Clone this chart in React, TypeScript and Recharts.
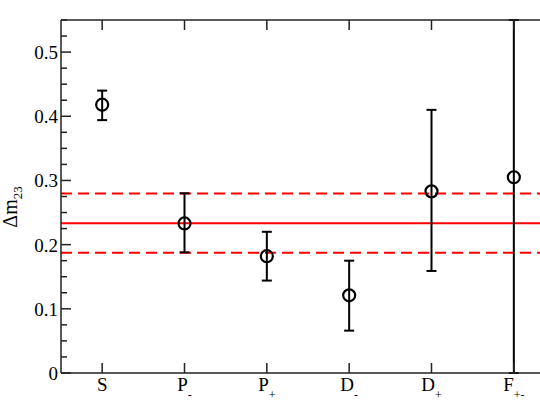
import { ScatterChart, Scatter, XAxis, YAxis, ErrorBar, ReferenceLine } from "recharts";

const labelMain = ["S", "P", "P", "D", "D", "F"];
const labelSub = ["", "-", "+", "-", "+", "+-"];
const positions = [0.5, 1.5, 2.5, 3.5, 4.5, 5.5];
const values = [0.418, 0.233, 0.182, 0.121, 0.283, 0.305];
const lowValues = [0.394, 0.188, 0.144, 0.066, 0.159, 0];
const highValues = [0.44, 0.28, 0.22, 0.175, 0.41, 0.55];

const centralValue = 0.2335;
const bandLow = 0.1875;
const bandHigh = 0.2795;

const yTicks = [
  0, 0.025, 0.05, 0.075, 0.1, 0.125, 0.15, 0.175, 0.2, 0.225, 0.25, 0.275,
  0.3, 0.325, 0.35, 0.375, 0.4, 0.425, 0.45, 0.475, 0.5, 0.525, 0.55,
];

const data = positions.map((p, i) => ({
  x: p,
  y: values[i],
  err: [values[i] - lowValues[i], highValues[i] - values[i]],
}));

const font = "Liberation Serif";
const marginTop = 19;
const plotTop = marginTop + 1; // top axis is 1px tall

const isMajor = (v: number) => Math.abs(v * 10 - Math.round(v * 10)) < 1e-6;

const YTick = (props: any) => {
  const { x, y, payload } = props;
  const v = payload.value;
  const major = isMajor(v);
  return (
    <g>
      <line x1={x} x2={x + (major ? 10 : 6)} y1={y} y2={y} stroke="#222" strokeWidth={1.5} />
      {major && v < 0.54 && (
        <text x={x - 3} y={y + 7} textAnchor="end" fontFamily={font} fontSize={19} fill="#000">
          {v === 0 ? "0" : v.toFixed(1)}
        </text>
      )}
    </g>
  );
};

// bottom tick + label, plus the matching inward tick on the top border
const XTick = (props: any) => {
  const { x, y, payload } = props;
  const i = positions.indexOf(payload.value);
  return (
    <g>
      <line x1={x} x2={x} y1={y} y2={y - 10} stroke="#222" strokeWidth={1.5} />
      <line x1={x} x2={x} y1={plotTop} y2={plotTop + 10} stroke="#222" strokeWidth={1.5} />
      <text x={x} y={y + 18} textAnchor="middle" fontFamily={font} fontSize={19} fill="#000">
        {labelMain[i]}
        {labelSub[i] && (
          <tspan fontSize={12} dy={8}>
            {labelSub[i]}
          </tspan>
        )}
      </text>
    </g>
  );
};

const Marker = (props: any) => (
  <circle cx={props.cx} cy={props.cy} r={6} fill="none" stroke="#000" strokeWidth={2.2} />
);

export default function App() {
  return (
    <div style={{ position: "absolute", left: 0, top: 0, width: 540, height: 417, overflow: "hidden", background: "#fff" }}>
      <ScatterChart width={560} height={417} margin={{ top: marginTop, right: 5, bottom: 0, left: 0 }}>
        <XAxis
          xAxisId="top"
          orientation="top"
          type="number"
          dataKey="x"
          domain={[0, 6]}
          height={1}
          tick={false}
          tickLine={false}
          axisLine={{ stroke: "#222", strokeWidth: 1.5 }}
        />
        <XAxis
          type="number"
          dataKey="x"
          domain={[0, 6]}
          ticks={positions}
          height={44}
          interval={0}
          tick={<XTick />}
          tickSize={0}
          tickMargin={0}
          tickLine={false}
          axisLine={{ stroke: "#222", strokeWidth: 1.5 }}
        />
        <YAxis
          type="number"
          dataKey="y"
          domain={[0, 0.55]}
          ticks={yTicks}
          interval={0}
          allowDataOverflow
          width={61}
          tick={<YTick />}
          tickSize={0}
          tickMargin={0}
          tickLine={false}
          axisLine={{ stroke: "#222", strokeWidth: 1.5 }}
          label={{
            content: () => (
              <text
                x={17}
                y={207}
                transform="rotate(-90, 17, 207)"
                textAnchor="middle"
                fontFamily={font}
                fontSize={20}
                fill="#000"
              >
                Δm
                <tspan fontSize={13} dy={5}>
                  23
                </tspan>
              </text>
            ),
          }}
        />
        <ReferenceLine y={bandHigh} stroke="#ff0000" strokeWidth={2} strokeDasharray="11 6" />
        <ReferenceLine y={centralValue} stroke="#ff0000" strokeWidth={2} />
        <ReferenceLine y={bandLow} stroke="#ff0000" strokeWidth={2} strokeDasharray="11 6" />
        <Scatter data={data} shape={<Marker />} isAnimationActive={false}>
          <ErrorBar dataKey="err" direction="y" width={5} stroke="#000" strokeWidth={2} isAnimationActive={false} />
        </Scatter>
      </ScatterChart>
    </div>
  );
}
